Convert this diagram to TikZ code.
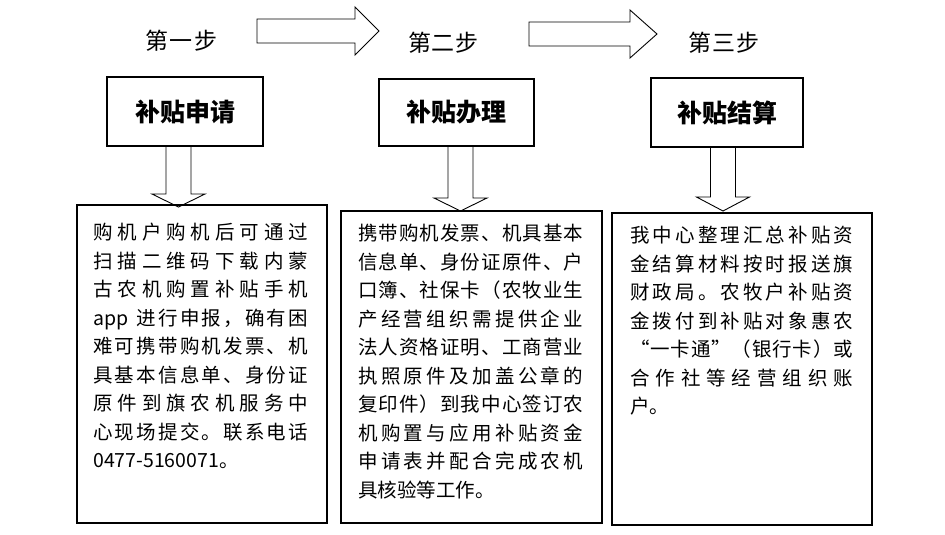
\documentclass[tikz,border=0pt]{standalone}
\usepackage{fontspec}
\setmainfont{Noto Sans CJK SC}
\usetikzlibrary{positioning}
% spread the characters of one line over a fixed width
\def\sprFirst#1{#1\sprNext}
\def\sprNext#1{\ifx#1\relax\else\hfil#1\expandafter\sprNext\fi}
\newcommand\jline[1]{\noindent\hbox to \hsize{\sprFirst#1\relax}}
\newcommand\spreadto[2]{\hbox to #1{\sprFirst#2\relax}}
\tikzset{
    titlebox/.style={draw,line width=1.6pt,inner sep=0pt,font=\fontsize{25}{30}\selectfont\bfseries},
    stepname/.style={inner sep=0pt,font=\fontsize{23}{27}\selectfont},
    textbox/.style={draw,line width=1.6pt,inner sep=0pt},
    bodytext/.style={inner sep=0pt,anchor=north west,text width=#1,align=left,font=\fontsize{19.5}{28.5}\selectfont},
    blockarrow/.style={draw,line width=0.9pt},
  }
\begin{document}
\begin{tikzpicture}[x=1pt,y=-1pt]
		    \useasboundingbox (0,0) rectangle (945,535);
		    % step names
			    \node[stepname] (s1) at (181.5,41) {\spreadto{73pt}{第一步}};
			    \node[stepname] (s2) at (443.5,43) {\spreadto{71pt}{第二步}};
			    \node[stepname] (s3) at (724,43) {\spreadto{72pt}{第三步}};
		    % block arrows between the steps
			    \foreach \a/\b/\t/\m in {257/355/379/31, 529/630/657/34}
			        \draw[blockarrow] (\a,\m-12) -- (\b,\m-12) -- (\b,\m-24) -- (\t,\m) -- (\b,\m+24) -- (\b,\m+12) -- (\a,\m+12) -- cycle;
		    % title boxes
			    \node[titlebox,minimum width=156pt,minimum height=69pt] (t1) at (185,111.5) {补贴申请};
			    \node[titlebox,minimum width=155pt,minimum height=67pt] (t2) at (456.5,112.5) {补贴办理};
			    \node[titlebox,minimum width=152pt,minimum height=69pt] (t3) at (727,112.5) {补贴结算};
		    % down arrows
			    \foreach \c/\b/\t in {178.5/194/207, 460.5/198/211, 723/197/211}
			        \draw[blockarrow] (\c-12.5,146) -- (\c-12.5,\b) -- (\c-26.5,\b) -- (\c,\t) -- (\c+26.5,\b) -- (\c+12.5,\b) -- (\c+12.5,146);
		    % text boxes
			    \node[textbox,minimum width=250pt,minimum height=318pt] (b1) at (202,364) {};
			    \node[textbox,minimum width=261pt,minimum height=312pt] (b2) at (471.5,367) {};
			    \node[textbox,minimum width=260pt,minimum height=312pt] (b3) at (742,369) {};
			    \node[bodytext=215pt] (p1) at (93,223) {\jline{购机户购机后可通过}\\
			        \jline{扫描二维码下载内蒙}\\
			        \jline{古农机购置补贴手机}\\
			        \noindent\hbox to \hsize{app\hspace{6pt}\hfil\sprFirst 进行申报，确有困\relax}\\
			        \jline{难可携带购机发票、机}\\
			        \jline{具基本信息单、身份证}\\
			        \jline{原件到旗农机服务中}\\
			        \jline{心现场提交。联系电话}\\
			        0477-5160071。};
			    \node[bodytext=225pt] (p2) at (358,224) {\jline{携带购机发票、机具基本}\\
			        \jline{信息单、身份证原件、户}\\
			        \jline{口簿、社保卡（农牧业生}\\
			        \jline{产经营组织需提供企业}\\
			        \jline{法人资格证明、工商营业}\\
			        \jline{执照原件及加盖公章的}\\
			        \jline{复印件）到我中心签订农}\\
			        \jline{机购置与应用补贴资金}\\
			        \jline{申请表并配合完成农机}\\
			        具核验等工作。};
			    \node[bodytext=223pt] (p3) at (630,226) {\jline{我中心整理汇总补贴资}\\
			        \jline{金结算材料按时报送旗}\\
			        \jline{财政局。农牧户补贴资}\\
			        \jline{金拨付到补贴对象惠农}\\
			        \jline{“一卡通”（银行卡）或}\\
			        \jline{合作社等经营组织账}\\
			        户。};
			\end{tikzpicture}
\end{document}
